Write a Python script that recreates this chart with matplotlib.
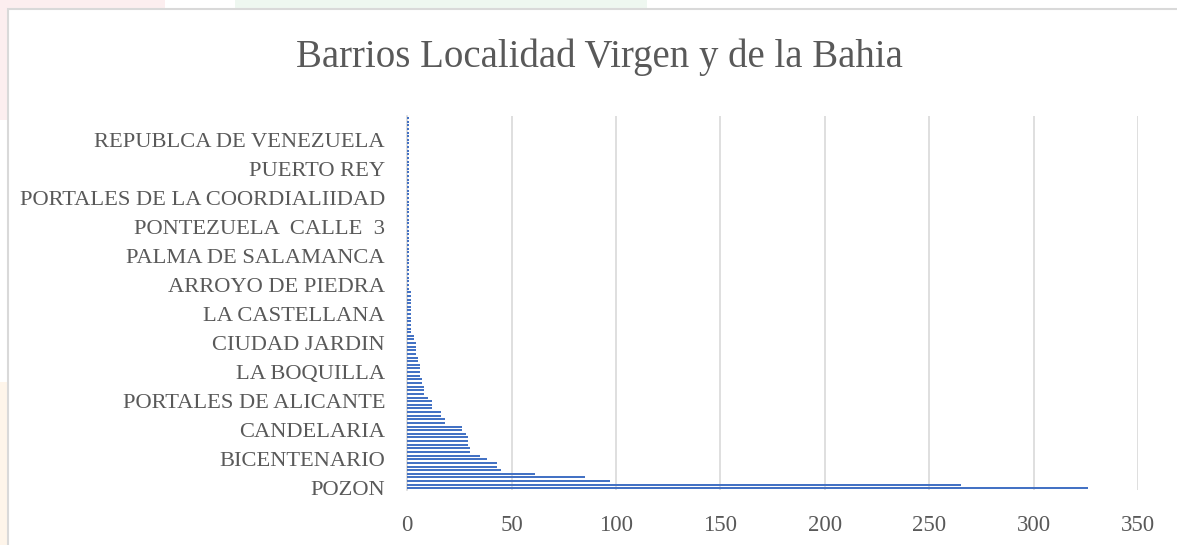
import numpy as np
import matplotlib.pyplot as plt
from matplotlib.patches import Rectangle

# barrios, de abajo (POZON) hacia arriba; solo cada 8vo tiene etiqueta visible
tick_labels = ["POZON", "BICENTENARIO", "CANDELARIA", "PORTALES DE ALICANTE",
               "LA BOQUILLA", "CIUDAD JARDIN", "LA CASTELLANA", "ARROYO DE PIEDRA",
               "PALMA DE SALAMANCA", "PONTEZUELA  CALLE  3",
               "PORTALES DE LA COORDIALIIDAD", "PUERTO REY", "REPUBLCA DE VENEZUELA"]
label_step = 8

values = [326, 265, 97, 85, 61, 45, 43, 43, 38, 35,
          30, 30, 29, 29, 29, 28, 26, 26, 18, 18,
          16, 16, 12, 12, 12, 10, 8, 8, 8, 7,
          7, 6, 6, 6, 6, 5, 5, 4, 4, 4,
          4, 3, 3,
          2, 2, 2, 2, 2, 2, 2, 2, 2, 2, 2, 2,
          1, 1, 1, 1, 1, 1, 1, 1, 1, 1, 1, 1,
          1, 1, 1, 1, 1, 1, 1, 1, 1, 1, 1, 1,
          1, 1, 1, 1, 1, 1, 1, 1, 1, 1, 1, 1,
          1, 1, 1, 1, 1, 1, 1, 1, 1, 1, 1, 1]
x_ticks = [0, 50, 100, 150, 200, 250, 300, 350]

title = "Barrios Localidad Virgen y de la Bahia"

plt.rcParams['font.family'] = ['Liberation Serif', 'DejaVu Serif']
txt_c = "#595959"
grid_c = "#D9D9D9"

fig = plt.figure(figsize=(11.77, 5.45), dpi=100)

# fondo decorativo fuera del marco
fig.patches.append(Rectangle((0, 0.78), 0.14, 0.22, transform=fig.transFigure,
                             facecolor="#FCEEEF", edgecolor="none", zorder=-5))
fig.patches.append(Rectangle((0.2, 0.97), 0.35, 0.03, transform=fig.transFigure,
                             facecolor="#EEF7F0", edgecolor="none", zorder=-5))
fig.patches.append(Rectangle((0, 0), 0.01, 0.3, transform=fig.transFigure,
                             facecolor="#FEF5EA", edgecolor="none", zorder=-5))
# marco blanco del grafico
fig.patches.append(Rectangle((8/1177, -0.1), 1.2, 1.1 - 9/545, transform=fig.transFigure,
                             facecolor="white", edgecolor=grid_c, lw=1.5, zorder=-4))

ax = fig.add_axes([407.3/1177, 1-490.1/545, (1138-407.3)/1177, (490.1-116.2)/545])
ax.patch.set_alpha(0)

y = np.arange(len(values))
ax.barh(y, values, height=0.55, color="#4472C4", zorder=3)

ax.set_xlim(0, 350)
ax.set_ylim(-0.5, len(values)-0.5)
ax.set_xticks(x_ticks)
ax.set_xticklabels([str(t) for t in x_ticks])
ax.set_yticks(y[::label_step])
ax.set_yticklabels(tick_labels)
ax.grid(axis="x", color=grid_c, lw=1.2, zorder=0)
ax.tick_params(axis="both", length=0, colors=txt_c)
ax.tick_params(axis="y", pad=16, labelsize=16.2)
ax.tick_params(axis="x", pad=18, labelsize=16.5)
for s in ["top", "right", "bottom"]:
    ax.spines[s].set_visible(False)
ax.spines["left"].set_color(grid_c)
ax.spines["left"].set_linewidth(1.2)

fig.text(599/1177, 1-57/545, title, ha="center", va="center", fontsize=28, color=txt_c)

fig.savefig("out.png", dpi=100)
